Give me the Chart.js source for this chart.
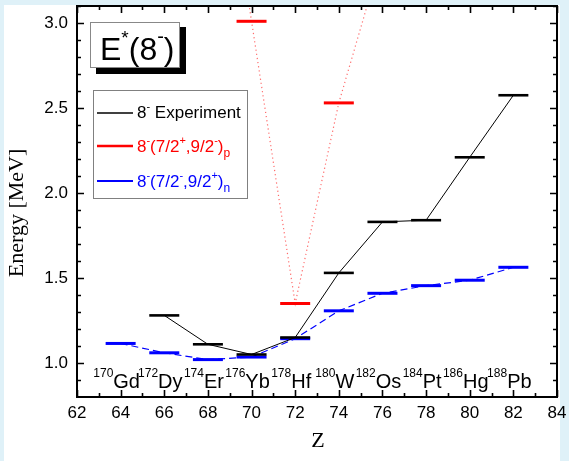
<!DOCTYPE html>
<html>
<head>
<meta charset="utf-8">
<script src="https://cdn.jsdelivr.net/npm/chart.js@4/dist/chart.umd.min.js"></script>
<style>
  html, body { margin: 0; padding: 0; background: #dff1f8; }
  canvas { display: block; }
</style>
</head>
<body>
<canvas id="chart" width="569" height="461"></canvas>
<script>
// measured 8- levels (MeV) vs proton number Z
const zExp = [66, 68, 70, 72, 74, 76, 78, 80, 82];
const eExp = [1.28, 1.11, 1.05, 1.15, 1.53, 1.83, 1.84, 2.21, 2.575];

// two-quasiproton configuration (dotted, partly above the frame)
const zProton = [68, 70, 72, 74, 76];
const eProton = [4.7, 3.01, 1.35, 2.53, 3.41];

// two-quasineutron configuration (dashed)
const zNeutron = [64, 66, 68, 70, 72, 74, 76, 78, 80, 82];
const eNeutron = [1.115, 1.06, 1.02, 1.035, 1.143, 1.307, 1.41, 1.455, 1.487, 1.563];

// isotone labels along the bottom
const nucleusZ = [64, 66, 68, 70, 72, 74, 76, 78, 80, 82];
const nucleusMass = ["170", "172", "174", "176", "178", "180", "182", "184", "186", "188"];
const nucleusSymbol = ["Gd", "Dy", "Er", "Yb", "Hf", "W", "Os", "Pt", "Hg", "Pb"];

const xTickLabels = [62, 64, 66, 68, 70, 72, 74, 76, 78, 80, 82, 84];
const yTickLabels = [1.0, 1.5, 2.0, 2.5, 3.0];

const SANS = '"Liberation Sans", Arial, sans-serif';
const SERIF = '"Liberation Serif", "Times New Roman", serif';

const toPoints = (xs, ys) => xs.map((x, i) => ({ x, y: ys[i] }));

// draws a run of [text, fontSize, yOffset] pieces starting at x
function drawRich(ctx, parts, x, y, color) {
  ctx.fillStyle = color;
  ctx.textAlign = "left";
  ctx.textBaseline = "alphabetic";
  let cx = x;
  for (const [t, size, dy] of parts) {
    ctx.font = `${size}px ${SANS}`;
    ctx.fillText(t, cx, y + dy);
    cx += ctx.measureText(t).width;
  }
  return cx - x;
}

function richWidth(ctx, parts) {
  let w = 0;
  for (const [t, size] of parts) {
    ctx.font = `${size}px ${SANS}`;
    w += ctx.measureText(t).width;
  }
  return w;
}

const decorations = {
  id: "decorations",
  beforeDraw(chart) {
    const ctx = chart.ctx;
    ctx.save();
    ctx.fillStyle = "#dff1f8";
    ctx.fillRect(0, 0, chart.width, chart.height);
    ctx.fillStyle = "#ffffff";
    ctx.fillRect(4, 5, 556, chart.height - 5);
    ctx.restore();
  },
  beforeDatasetsDraw(chart) {
    const ctx = chart.ctx;
    const xs = chart.scales.x;
    ctx.save();
    // nucleus labels
    nucleusZ.forEach((z, i) => {
      const parts = [[nucleusMass[i], 12, -11], [nucleusSymbol[i], 20, 0]];
      const w = richWidth(ctx, parts);
      drawRich(ctx, parts, xs.getPixelForValue(z) - 4 - w / 2, 388, "#000");
    });
    ctx.restore();
  },
  afterDraw(chart) {
    const ctx = chart.ctx;
    const { left, right, top, bottom } = chart.chartArea;
    const xs = chart.scales.x, ys = chart.scales.y;
    ctx.save();

    // inward tick marks on all four sides
    ctx.strokeStyle = "#000";
    ctx.lineWidth = 1.6;
    ctx.beginPath();
    for (let v = 62; v <= 84; v++) {
      const px = Math.round(xs.getPixelForValue(v)) + 0.5;
      const len = v % 2 === 0 ? 7 : 4;
      ctx.moveTo(px, bottom); ctx.lineTo(px, bottom - len);
      ctx.moveTo(px, top); ctx.lineTo(px, top + len);
    }
    for (let i = 9; i <= 31; i++) {
      const py = Math.round(ys.getPixelForValue(i / 10)) + 0.5;
      const len = i % 5 === 0 ? 7 : 4;
      ctx.moveTo(left, py); ctx.lineTo(left + len, py);
      ctx.moveTo(right, py); ctx.lineTo(right - len, py);
    }
    ctx.stroke();

    // frame
    ctx.lineWidth = 2;
    ctx.strokeRect(left, top, right - left, bottom - top);

    // axis titles
    ctx.fillStyle = "#000";
    ctx.font = `22px ${SERIF}`;
    ctx.textAlign = "center";
    ctx.textBaseline = "alphabetic";
    ctx.fillText("Z", 318, 447);
    ctx.save();
    ctx.translate(23, 213);
    ctx.rotate(-Math.PI / 2);
    ctx.fillText("Energy [MeV]", 0, 0);
    ctx.restore();

    // title box with drop shadow
    ctx.fillStyle = "#000";
    ctx.fillRect(96, 27, 90, 47);
    ctx.fillStyle = "#fff";
    ctx.fillRect(90, 22, 90, 46);
    ctx.strokeStyle = "#888";
    ctx.lineWidth = 1;
    ctx.strokeRect(90.5, 22.5, 89, 45);
    drawRich(ctx, [["E", 32, 0], ["*", 19, -16], ["(8", 32, 0], ["-", 20, -17], [")", 32, 0]], 100, 60, "#000");

    // legend
    ctx.fillStyle = "#fff";
    ctx.fillRect(93, 90, 154, 108);
    ctx.strokeStyle = "#808080";
    ctx.lineWidth = 1;
    ctx.strokeRect(93.5, 90.5, 154, 108);
    const rows = [
      { y: 113, base: 118, color: "#000", width: 1.6,
        parts: [["8", 17, 0], ["-", 11, -8], [" Experiment", 17, 0]] },
      { y: 146, base: 152, color: "#ff0000", width: 2.5,
        parts: [["8", 17, 0], ["-", 11, -8], ["(7/2", 17, 0], ["+", 11, -8], [",9/2", 17, 0], ["-", 11, -8], [")", 17, 0], ["p", 12, 5]] },
      { y: 181, base: 187, color: "#0000ff", width: 2,
        parts: [["8", 17, 0], ["-", 11, -8], ["(7/2", 17, 0], ["-", 11, -8], [",9/2", 17, 0], ["+", 11, -8], [")", 17, 0], ["n", 12, 5]] },
    ];
    for (const r of rows) {
      ctx.strokeStyle = r.color;
      ctx.lineWidth = r.width;
      ctx.beginPath();
      ctx.moveTo(97, r.y); ctx.lineTo(133, r.y);
      ctx.stroke();
      drawRich(ctx, r.parts, 137, r.base, r.color);
    }
    ctx.restore();
  },
};

new Chart(document.getElementById("chart"), {
  type: "scatter",
  data: {
    datasets: [
      {
        label: "8- Experiment",
        data: toPoints(zExp, eExp),
        showLine: true,
        borderColor: "#000",
        borderWidth: 1,
        pointStyle: "line",
        pointRadius: 15,
        pointHoverRadius: 15,
        pointBorderWidth: 2.6,
        pointBorderColor: "#000",
        order: 0,
      },
      {
        label: "8-(7/2-,9/2+)n",
        data: toPoints(zNeutron, eNeutron),
        showLine: true,
        borderColor: "#0000ff",
        borderWidth: 1.2,
        borderDash: [7, 4],
        pointStyle: "line",
        pointRadius: 15,
        pointHoverRadius: 15,
        pointBorderWidth: 3,
        pointBorderColor: "#0000ff",
        order: 1,
      },
      {
        label: "8-(7/2+,9/2-)p",
        data: toPoints(zProton, eProton),
        showLine: true,
        borderColor: "rgba(255,70,70,0.8)",
        borderWidth: 1.2,
        borderDash: [1.2, 3],
        pointStyle: "line",
        pointRadius: 15,
        pointHoverRadius: 15,
        pointBorderWidth: 3,
        pointBorderColor: "#ff0000",
        order: 2,
      },
    ],
  },
  options: {
    responsive: false,
    animation: false,
    events: [],
    layout: { autoPadding: false, padding: { left: 0, right: 12, top: 6, bottom: 0 } },
    plugins: { legend: { display: false }, tooltip: { enabled: false } },
    scales: {
      x: {
        type: "linear",
        min: 62,
        max: 84,
        grid: { display: false, drawTicks: false },
        border: { display: false },
        afterBuildTicks: (s) => { s.ticks = xTickLabels.map((v) => ({ value: v })); },
        afterFit: (s) => { s.height = 64; s.paddingLeft = 0; s.paddingRight = 0; },
        ticks: { color: "#000", padding: 6, maxRotation: 0, font: { family: SANS, size: 17 } },
      },
      y: {
        type: "linear",
        min: 0.8,
        max: 3.1,
        grid: { display: false, drawTicks: false },
        border: { display: false },
        afterBuildTicks: (s) => { s.ticks = yTickLabels.map((v) => ({ value: v })); },
        afterFit: (s) => { s.width = 77; s.paddingTop = 0; s.paddingBottom = 0; },
        ticks: {
          color: "#000",
          padding: 9,
          font: { family: SANS, size: 17 },
          callback: (v) => Number(v).toFixed(1),
        },
      },
    },
  },
  plugins: [decorations],
});
</script>
</body>
</html>
